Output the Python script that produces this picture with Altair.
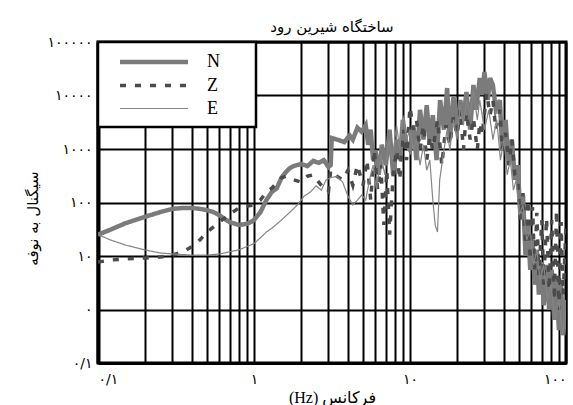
import altair as alt
import pandas as pd

# Signal-to-noise spectra of the three components (frequency in Hz, ratio)
n_freq = [0.10, 0.12, 0.15, 0.20, 0.25, 0.30, 0.35, 0.40, 0.45, 0.50, 0.55, 0.60, 0.65, 0.70, 0.80, 0.90, 0.95,
          1.0, 1.1, 1.2, 1.3, 1.4, 1.5, 1.6, 1.7, 1.8, 2.0, 2.2, 2.4, 2.6, 2.8, 3.0, 3.1, 3.15, 3.4, 3.8,
          4.1, 4.3, 4.6, 4.9, 5.2, 5.4, 5.6, 5.8, 6.0, 6.3, 6.6, 7.0, 7.4, 7.8, 8.2, 8.6, 9.0, 9.5,
          10, 10.5, 11, 11.6, 12.2, 12.8, 13.4, 14, 14.8, 15.6, 16.5, 17.3, 18, 19, 20, 21, 22, 23, 24.3,
          25.5, 26.5, 28, 29, 30, 31.5, 32.6, 34, 35.5, 37.7, 39, 41, 43, 45, 47, 49, 51, 53, 55, 57, 59,
          61, 63, 65, 67, 70, 72, 75, 78, 81, 84, 87, 90, 93, 96, 100]
n_snr = [25, 31, 41, 54, 66, 76, 79, 79, 76, 72, 66, 58, 49, 43, 38, 40, 43,
         47, 66, 111, 157, 185, 290, 370, 440, 480, 525, 480, 600, 550, 620, 460, 500, 1600, 1500, 1350,
         1800, 1500, 2500, 2100, 2800, 1200, 2300, 620, 960, 330, 1200, 500, 2300, 330, 1500, 620, 3500, 1200,
         960, 2800, 620, 5400, 1500, 6600, 1200, 4300, 620, 8200, 2300, 13800, 1500, 9400, 2300, 8200, 3500, 11600, 2300,
         15700, 5400, 21200, 10200, 27500, 8200, 21200, 15700, 5400, 8200, 960, 3500, 500, 1500, 265, 500, 58, 138, 10.4, 38, 5.5,
         20, 2.9, 13, 1.9, 7.7, 1.2, 6.8, 0.98, 5.5, 0.64, 3.6, 0.41, 2.9, 0.33, 1.5]

z_freq = [0.10, 0.12, 0.15, 0.20, 0.25, 0.30, 0.35, 0.40, 0.45, 0.50, 0.60, 0.70, 0.80, 0.90,
          1.0, 1.1, 1.2, 1.3, 1.5, 1.6, 1.8, 2.0, 2.2, 2.4, 2.6, 2.8, 3.0, 3.1, 3.4, 3.7,
          4.0, 4.3, 4.6, 5.0, 5.3, 5.6, 5.9, 6.2, 6.5, 6.8, 7.1, 7.4, 7.8, 8.2, 8.6, 9.0, 9.5,
          10, 10.5, 11, 11.6, 12.2, 12.8, 13.4, 14, 15, 16, 17, 18, 19, 20, 21, 22, 23, 24.3,
          25.5, 27, 28, 29, 31, 32.6, 34, 35.5, 37.7, 39, 41, 43, 45, 47, 49, 51, 53, 55, 57, 59,
          61, 63, 65, 67, 70, 72, 75, 78, 81, 84, 87, 90, 93, 96, 100]
z_snr = [7.7, 8.4, 8.8, 9.2, 9.6, 10.4, 12, 15, 20, 28, 43, 61, 79, 86,
         90, 111, 157, 185, 290, 310, 265, 240, 310, 330, 240, 185, 157, 400, 310, 265,
         400, 210, 500, 210, 620, 111, 960, 170, 500, 38, 400, 25, 330, 960, 265, 2300, 620,
         6100, 2300, 3500, 960, 2800, 620, 1700, 960, 3500, 500, 2800, 1200, 4000, 1800, 5400, 960, 4700, 1500,
         3800, 960, 3100, 1800, 11100, 4300, 8200, 2300, 5400, 960, 2000, 500, 1500, 330, 265, 47, 150, 16, 111, 8.4,
         82, 5.5, 64, 4.4, 47, 2.9, 51, 2.3, 47, 1.5, 72, 0.98, 43, 1.9, 38]

e_freq = [0.10, 0.12, 0.15, 0.20, 0.25, 0.30, 0.40, 0.50, 0.60, 0.70, 0.80, 0.90,
          1.0, 1.1, 1.2, 1.3, 1.5, 1.7, 1.9, 2.1, 2.3, 2.5, 2.7, 2.9, 3.1, 3.4, 3.7,
          4.0, 4.3, 4.6, 4.9, 5.2, 5.5, 5.8, 6.1, 6.5, 6.9, 7.3, 7.7, 8.2, 8.6, 9.0, 9.5,
          10, 10.5, 11, 11.6, 12.2, 12.8, 13.4, 14, 14.5, 15, 15.5, 16.5, 17.3, 18, 19, 20, 21, 22, 23, 24.3,
          25.5, 27, 28, 30, 32, 34, 36, 38, 40, 42, 44, 46, 48, 50, 53, 56, 59,
          62, 65, 68, 72, 76, 80, 85, 90, 95, 100]
e_snr = [25, 20, 16, 13, 11.4, 10.9, 10.4, 10.4, 10.9, 12, 13, 15,
         17, 22, 28, 33, 47, 66, 90, 132, 157, 205, 170, 265, 290, 310, 240,
         132, 90, 111, 138, 111, 265, 500, 170, 770, 330, 1500, 620, 2800, 960, 4300, 1500,
         2300, 960, 1500, 500, 1200, 400, 620, 111, 38, 28, 265, 960, 2300, 960, 3500, 1500, 6600, 2800, 8200, 4300,
         12700, 3500, 8200, 2300, 5400, 1500, 3500, 620, 1500, 330, 620, 170, 265, 58, 90, 20, 31,
         6.8, 13, 3.6, 6.8, 1.5, 2.9, 0.64, 1.5, 0.33, 0.98]

series_names = ["N", "Z", "E"]
series_colors = ["#7b7b7b", "#4b4b4b", "#858585"]
series_dash = [[1, 0], [6, 9], [1, 0]]
series_width = [4.5, 3.5, 1.2]

# Axis ticks and their (Persian) labels
x_label_values = [0.1, 1, 10, 100]
x_label_texts = ["۰/۱", "۱", "۱۰", "۱۰۰"]
y_label_values = [0.1, 1, 10, 100, 1000, 10000, 100000]
y_label_texts = ["۰/۱", "۰", "۱۰", "۱۰۰", "۱۰۰۰", "۱۰۰۰۰", "۱۰۰۰۰۰"]

title_text = "ساختگاه شیرین رود"
x_title = "(Hz) فرکانس"
y_title = "سیگنال به نوفه"

rows = []
for name, fr, vals in zip(series_names, (n_freq, z_freq, e_freq), (n_snr, z_snr, e_snr)):
    for i, (f, v) in enumerate(zip(fr, vals)):
        rows.append({"series": name, "freq": f, "snr": v, "idx": i})
df = pd.DataFrame(rows)

# vertical grid at every 1..9 multiple of each decade
x_grid = [m * 10.0 ** e for e in (-1, 0, 1) for m in range(1, 10)] + [100.0]


def label_expr(values, texts):
    expr = "''"
    for v, t in reversed(list(zip(values, texts))):
        expr = f"abs(datum.value - {v}) < {v * 0.01} ? '{t}' : ({expr})"
    return expr


persian_font = "DejaVu Sans"
mixed_font = "Liberation Serif, DejaVu Sans"
series_scale = dict(domain=series_names)

# long horizontal stroke as legend symbol; the layout only reserves sqrt(symbolSize).
# Spaces after each label (closed by a zero-width space so they are kept) widen the box.
legend_pad = " " * 6 + "\u200b"
legend = alt.Legend(
    title=None, orient="top-left", offset=0, padding=9,
    fillColor="white", strokeColor="black",
    symbolType="M-4,0H4", symbolSize=289, symbolOffset=36,
    labelFont="Liberation Serif", labelFontSize=18, labelColor="black",
    labelOffset=42, rowPadding=4,
    labelExpr=f"datum.label + '{legend_pad}'",
)

chart = alt.Chart(df).mark_line(clip=True).encode(
    x=alt.X("freq:Q", scale=alt.Scale(type="log", domain=[0.1, 100], nice=False),
            axis=alt.Axis(values=x_grid, labelExpr=label_expr(x_label_values, x_label_texts),
                          title=x_title, titleY=34, titleBaseline="middle", titleFont=mixed_font,
                          titleFontSize=16, labelPadding=9, labelFlush=True)),
    y=alt.Y("snr:Q", scale=alt.Scale(type="log", domain=[0.1, 100000], nice=False),
            axis=alt.Axis(values=y_label_values, labelExpr=label_expr(y_label_values, y_label_texts),
                          title=y_title, titleX=-66, titleY=176, titleBaseline="middle",
                          titleFontSize=15, labelPadding=6, domainWidth=4)),
    color=alt.Color("series:O", scale=alt.Scale(range=series_colors, **series_scale), legend=legend),
    strokeDash=alt.StrokeDash("series:O", scale=alt.Scale(range=series_dash, **series_scale), legend=legend),
    strokeWidth=alt.StrokeWidth("series:O", scale=alt.Scale(type="ordinal", range=series_width, **series_scale),
                                legend=legend),
    detail="series:O",
    order="idx:Q",
).properties(
    width=468, height=321,
    title=alt.TitleParams(title_text, font=persian_font, fontSize=15, fontWeight="normal",
                          color="black", offset=0, anchor="middle"),
    autosize=alt.AutoSizeParams(type="none"),
    padding={"left": 98, "top": 42, "right": 7, "bottom": 42},
).configure_view(
    stroke="black", strokeWidth=3,
).configure_axis(
    grid=True, gridColor="black", gridOpacity=1, gridWidth=2,
    ticks=False, tickSize=0, domainColor="black", domainWidth=3,
    labelFont=persian_font, labelFontSize=14, labelColor="black",
    titleFont=persian_font, titleFontSize=14, titleFontWeight="normal", titleColor="black",
).configure_legend(
    strokeWidth=2.5,
)

chart.save("out.html", embed_options={"renderer": "svg", "actions": False})
